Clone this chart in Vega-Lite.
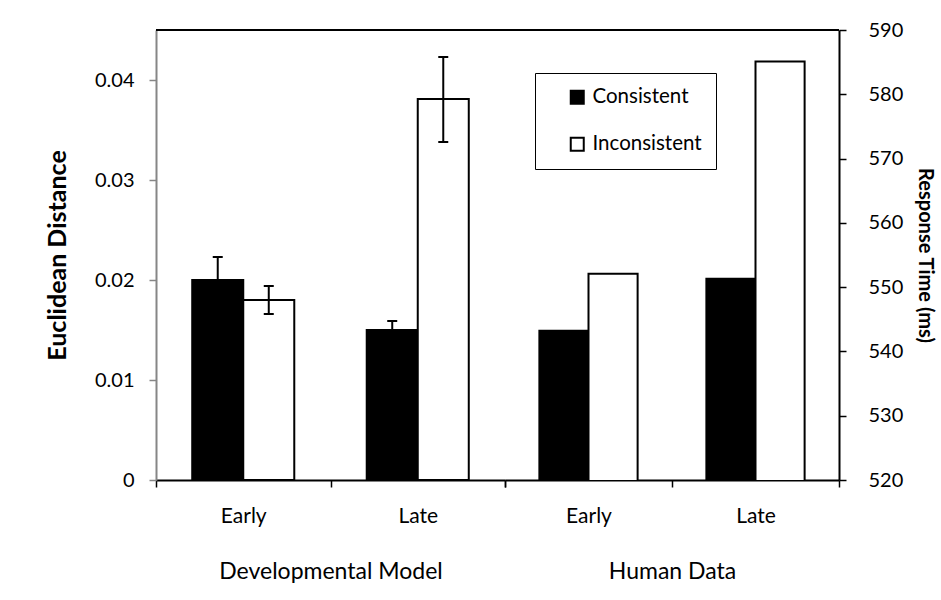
{
  "$schema": "https://vega.github.io/schema/vega-lite/v6.json",
  "padding": {"left": 45, "top": 20, "right": 5, "bottom": 5},
  "background": "white",
  "datasets": {
    "dev": [
      {"group": "Developmental Model", "phase": "Early", "condition": "Consistent", "value": 0.0200, "lo": 0.0177, "hi": 0.0223},
      {"group": "Developmental Model", "phase": "Early", "condition": "Inconsistent", "value": 0.0180, "lo": 0.0166, "hi": 0.0194},
      {"group": "Developmental Model", "phase": "Late", "condition": "Consistent", "value": 0.0150, "lo": 0.0141, "hi": 0.0159},
      {"group": "Developmental Model", "phase": "Late", "condition": "Inconsistent", "value": 0.0381, "lo": 0.0338, "hi": 0.0423}
    ],
    "human": [
      {"group": "Human Data", "phase": "Early", "condition": "Consistent", "value": 543.2},
      {"group": "Human Data", "phase": "Early", "condition": "Inconsistent", "value": 552.1},
      {"group": "Human Data", "phase": "Late", "condition": "Consistent", "value": 551.3},
      {"group": "Human Data", "phase": "Late", "condition": "Inconsistent", "value": 585.1}
    ]
  },
  "config": {
    "view": {"stroke": null},
    "font": "Lato",
    "axis": {"labelFont": "Lato", "titleFont": "Lato", "labelColor": "black", "titleColor": "black", "grid": false},
    "legend": {"labelFont": "Lato"}
  },
  "spacing": 0,
  "bounds": "flush",
  "resolve": {"scale": {"color": "shared", "y": "independent", "x": "independent", "xOffset": "independent"}, "legend": {"color": "shared"}},
  "hconcat": [
    {
      "width": 349,
      "height": 450,
      "data": {"name": "dev"},
      "layer": [
        {
          "mark": {"type": "bar", "stroke": "black", "strokeWidth": 2},
          "encoding": {
            "x": {"field": "phase", "type": "nominal", "sort": ["Early", "Late"], "scale": {"paddingInner": 0, "paddingOuter": 0},
              "axis": {"title": "Developmental Model", "labelAngle": 0, "tickBand": "extent", "domainColor": "black", "domainWidth": 2, "tickColor": "black", "tickSize": 7, "tickWidth": 1.5, "labelFontSize": 21, "labelPadding": 18, "titleFontSize": 23, "titleFontWeight": "normal", "titlePadding": 34}},
            "xOffset": {"field": "condition", "type": "nominal", "sort": ["Consistent", "Inconsistent"], "scale": {"paddingInner": 0, "paddingOuter": 0.71}},
            "y": {"field": "value", "type": "quantitative", "title": "Euclidean Distance", "scale": {"domain": [0, 0.045], "nice": false},
              "axis": {"values": [0, 0.01, 0.02, 0.03, 0.04], "format": ".2~f", "domainColor": "#868686", "domainWidth": 2, "tickColor": "#868686", "tickWidth": 1.5, "tickSize": 7, "labelFontSize": 20, "labelPadding": 15, "titleFontSize": 25, "titleFontWeight": "bold", "titlePadding": 24}},
            "color": {"field": "condition", "type": "nominal", "scale": {"domain": ["Consistent", "Inconsistent"], "range": ["black", "white"]},
              "legend": {"title": null, "orient": "none", "legendX": 379, "legendY": 43, "padding": 14, "strokeColor": "black", "fillColor": "white", "symbolType": "square", "symbolSize": 169, "symbolStrokeColor": "black", "symbolStrokeWidth": 2, "labelFontSize": 20.5, "rowPadding": 25, "symbolOffset": 18, "labelOffset": 5}}
          }
        },
        {
          "mark": {"type": "rule", "strokeWidth": 2, "color": "black"},
          "encoding": {
            "x": {"field": "phase", "type": "nominal", "sort": ["Early", "Late"]},
            "xOffset": {"field": "condition", "type": "nominal", "sort": ["Consistent", "Inconsistent"]},
            "y": {"field": "lo", "type": "quantitative", "title": "Euclidean Distance"},
            "y2": {"field": "hi"}
          }
        },
        {
          "mark": {"type": "tick", "size": 10, "thickness": 2, "color": "black", "opacity": 1},
          "encoding": {
            "x": {"field": "phase", "type": "nominal", "sort": ["Early", "Late"]},
            "xOffset": {"field": "condition", "type": "nominal", "sort": ["Consistent", "Inconsistent"]},
            "y": {"field": "hi", "type": "quantitative", "title": "Euclidean Distance"}
          }
        },
        {
          "mark": {"type": "tick", "size": 10, "thickness": 2, "color": "black", "opacity": 1},
          "encoding": {
            "x": {"field": "phase", "type": "nominal", "sort": ["Early", "Late"]},
            "xOffset": {"field": "condition", "type": "nominal", "sort": ["Consistent", "Inconsistent"]},
            "y": {"field": "lo", "type": "quantitative", "title": "Euclidean Distance"}
          }
        },
        {
          "mark": {"type": "rule", "strokeWidth": 2, "color": "black"},
          "encoding": {"y": {"datum": 0.045, "type": "quantitative", "title": "Euclidean Distance"}}
        }
      ]
    },
    {
      "width": 334,
      "height": 450,
      "data": {"name": "human"},
      "layer": [
        {
          "mark": {"type": "bar", "stroke": "black", "strokeWidth": 2, "clip": true},
          "encoding": {
            "x": {"field": "phase", "type": "nominal", "sort": ["Early", "Late"], "scale": {"paddingInner": 0, "paddingOuter": 0},
              "axis": {"title": "Human Data", "labelAngle": 0, "tickBand": "extent", "domainColor": "black", "domainWidth": 2, "tickColor": "black", "tickSize": 7, "tickWidth": 1.5, "labelFontSize": 21, "labelPadding": 18, "titleFontSize": 23, "titleFontWeight": "normal", "titlePadding": 34}},
            "xOffset": {"field": "condition", "type": "nominal", "sort": ["Consistent", "Inconsistent"], "scale": {"paddingInner": 0, "paddingOuter": 0.70}},
            "y": {"field": "value", "type": "quantitative", "title": "Response Time (ms)", "scale": {"domain": [520, 590], "zero": false, "nice": false},
              "axis": {"orient": "right", "values": [520, 530, 540, 550, 560, 570, 580, 590], "domainColor": "black", "domainWidth": 2, "tickColor": "black", "tickWidth": 1.5, "tickSize": 7, "labelFontSize": 20, "labelPadding": 22, "titleFontSize": 20, "titleFontWeight": "bold", "titlePadding": 12}},
            "color": {"field": "condition", "type": "nominal", "scale": {"domain": ["Consistent", "Inconsistent"], "range": ["black", "white"]},
              "legend": {"title": null, "orient": "none", "legendX": 379, "legendY": 43, "padding": 14, "strokeColor": "black", "fillColor": "white", "symbolType": "square", "symbolSize": 169, "symbolStrokeColor": "black", "symbolStrokeWidth": 2, "labelFontSize": 20.5, "rowPadding": 25, "symbolOffset": 18, "labelOffset": 5}}
          }
        },
        {
          "mark": {"type": "rule", "strokeWidth": 2, "color": "black"},
          "encoding": {"y": {"datum": 590, "type": "quantitative", "title": "Response Time (ms)"}}
        }
      ]
    }
  ]
}
